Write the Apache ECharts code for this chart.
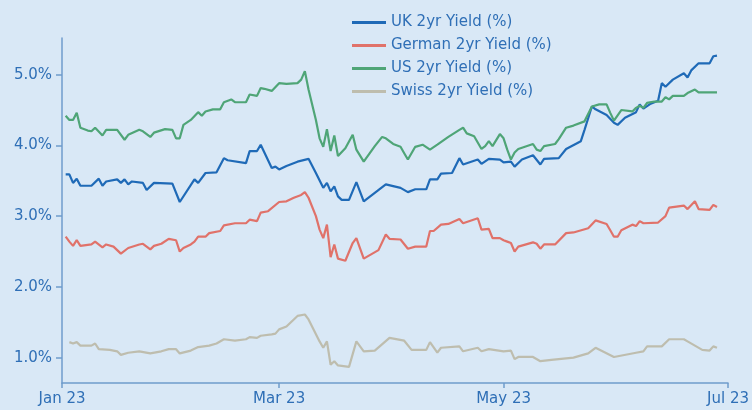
<!DOCTYPE html>
<html>
<head>
<meta charset="utf-8">
<script src="https://cdn.jsdelivr.net/npm/echarts@6/dist/echarts.min.js"></script>
<style>
  html, body { margin: 0; padding: 0; background: #d9e8f6; }
  #chart { width: 752px; height: 410px; }
</style>
</head>
<body>
<div id="chart"></div>
<script>
// 2yr government bond yields, Jan - Jun 2023
const seriesNames = ['UK 2yr Yield (%)', 'German 2yr Yield (%)', 'US 2yr Yield (%)', 'Swiss 2yr Yield (%)']

const ukDates = ['01-02', '01-03', '01-04', '01-05', '01-06', '01-09', '01-11', '01-12', '01-13', '01-16',
  '01-17', '01-18', '01-19', '01-20', '01-23', '01-24', '01-26', '01-31', '02-02', '02-06',
  '02-07', '02-09', '02-12', '02-14', '02-15', '02-20', '02-21', '02-23', '02-24', '02-27',
  '02-28', '03-01', '03-03', '03-06', '03-09', '03-11', '03-13', '03-14', '03-15', '03-16',
  '03-17', '03-18', '03-20', '03-22', '03-24', '03-27', '03-30', '04-03', '04-05', '04-07',
  '04-10', '04-11', '04-13', '04-14', '04-17', '04-19', '04-20', '04-24', '04-25', '04-27',
  '04-30', '05-01', '05-03', '05-04', '05-06', '05-09', '05-11', '05-12', '05-16', '05-18',
  '05-22', '05-23', '05-25', '05-26', '05-29', '05-31', '06-01', '06-03', '06-06', '06-07',
  '06-08', '06-10', '06-12', '06-13', '06-14', '06-16', '06-19', '06-20', '06-21', '06-23',
  '06-26', '06-27', '06-28']
const ukYield = [3.59, 3.59, 3.47, 3.53, 3.43, 3.43, 3.53, 3.43, 3.49, 3.52,
  3.47, 3.52, 3.45, 3.49, 3.47, 3.37, 3.47, 3.46, 3.20, 3.52,
  3.47, 3.61, 3.62, 3.82, 3.79, 3.75, 3.92, 3.92, 4.01, 3.68,
  3.70, 3.66, 3.71, 3.77, 3.81, 3.61, 3.40, 3.47, 3.35, 3.42,
  3.28, 3.23, 3.23, 3.48, 3.21, 3.33, 3.45, 3.40, 3.34, 3.38,
  3.38, 3.52, 3.52, 3.60, 3.61, 3.82, 3.73, 3.80, 3.74, 3.81,
  3.80, 3.76, 3.77, 3.70, 3.80, 3.86, 3.73, 3.81, 3.82, 3.95,
  4.06, 4.22, 4.55, 4.51, 4.43, 4.32, 4.29, 4.39, 4.47, 4.58,
  4.52, 4.59, 4.63, 4.88, 4.83, 4.93, 5.02, 4.96, 5.06, 5.16,
  5.16, 5.26, 5.27]

const deDates = ['01-02', '01-03', '01-04', '01-05', '01-06', '01-09', '01-10', '01-12', '01-13', '01-15',
  '01-17', '01-19', '01-22', '01-23', '01-25', '01-26', '01-28', '01-30', '02-01', '02-02',
  '02-03', '02-05', '02-06', '02-07', '02-09', '02-10', '02-13', '02-14', '02-17', '02-20',
  '02-21', '02-23', '02-24', '02-26', '03-01', '03-03', '03-05', '03-07', '03-08', '03-09',
  '03-11', '03-12', '03-13', '03-14', '03-15', '03-16', '03-17', '03-19', '03-21', '03-22',
  '03-24', '03-28', '03-30', '03-31', '04-03', '04-05', '04-07', '04-10', '04-11', '04-12',
  '04-14', '04-16', '04-19', '04-20', '04-24', '04-25', '04-27', '04-28', '04-30', '05-01',
  '05-02', '05-03', '05-04', '05-05', '05-09', '05-10', '05-11', '05-12', '05-15', '05-18',
  '05-20', '05-24', '05-26', '05-29', '05-30', '05-31', '06-01', '06-02', '06-05', '06-06',
  '06-07', '06-08', '06-12', '06-14', '06-15', '06-19', '06-20', '06-22', '06-23', '06-26',
  '06-27', '06-28']
const deYield = [2.71, 2.64, 2.58, 2.66, 2.58, 2.60, 2.64, 2.56, 2.60, 2.57,
  2.47, 2.55, 2.60, 2.61, 2.53, 2.58, 2.61, 2.68, 2.66, 2.50,
  2.55, 2.60, 2.64, 2.71, 2.71, 2.76, 2.79, 2.87, 2.90, 2.90,
  2.95, 2.93, 3.05, 3.07, 3.20, 3.21, 3.26, 3.30, 3.34, 3.26,
  3.00, 2.81, 2.69, 2.88, 2.42, 2.60, 2.40, 2.37, 2.62, 2.69,
  2.40, 2.52, 2.74, 2.68, 2.67, 2.54, 2.57, 2.57, 2.79, 2.79,
  2.88, 2.89, 2.96, 2.90, 2.97, 2.81, 2.82, 2.69, 2.69, 2.66,
  2.64, 2.62, 2.50, 2.57, 2.63, 2.61, 2.54, 2.60, 2.60, 2.76,
  2.77, 2.83, 2.94, 2.89, 2.80, 2.71, 2.71, 2.80, 2.88, 2.86,
  2.93, 2.90, 2.91, 3.00, 3.12, 3.15, 3.10, 3.21, 3.10, 3.09,
  3.16, 3.13]

const usDates = ['01-02', '01-03', '01-04', '01-05', '01-06', '01-08', '01-09', '01-10', '01-12', '01-13',
  '01-16', '01-18', '01-19', '01-22', '01-23', '01-25', '01-26', '01-29', '01-31', '02-01',
  '02-02', '02-03', '02-05', '02-07', '02-08', '02-09', '02-11', '02-13', '02-14', '02-16',
  '02-17', '02-20', '02-21', '02-23', '02-24', '02-25', '02-27', '03-01', '03-03', '03-06',
  '03-07', '03-08', '03-09', '03-11', '03-12', '03-13', '03-14', '03-15', '03-16', '03-17',
  '03-19', '03-21', '03-22', '03-24', '03-27', '03-29', '03-30', '04-01', '04-03', '04-04',
  '04-05', '04-07', '04-09', '04-11', '04-13', '04-16', '04-19', '04-20', '04-21', '04-23',
  '04-25', '04-26', '04-27', '04-28', '04-30', '05-01', '05-02', '05-03', '05-04', '05-05',
  '05-09', '05-10', '05-11', '05-12', '05-15', '05-16', '05-18', '05-20', '05-23', '05-25',
  '05-27', '05-29', '05-30', '05-31', '06-02', '06-05', '06-06', '06-07', '06-08', '06-09',
  '06-11', '06-13', '06-14', '06-15', '06-16', '06-19', '06-20', '06-22', '06-23', '06-26',
  '06-28']
const usYield = [4.42, 4.36, 4.36, 4.46, 4.25, 4.21, 4.20, 4.25, 4.14, 4.22,
  4.22, 4.08, 4.15, 4.22, 4.20, 4.12, 4.18, 4.23, 4.22, 4.10,
  4.10, 4.29, 4.36, 4.47, 4.42, 4.48, 4.51, 4.51, 4.61, 4.65,
  4.61, 4.61, 4.72, 4.70, 4.81, 4.80, 4.77, 4.88, 4.87, 4.88,
  4.93, 5.05, 4.79, 4.36, 4.10, 3.98, 4.23, 3.92, 4.14, 3.85,
  3.96, 4.15, 3.94, 3.77, 3.99, 4.12, 4.10, 4.02, 3.98, 3.89,
  3.80, 3.98, 4.01, 3.94, 4.01, 4.12, 4.22, 4.25, 4.17, 4.13,
  3.95, 3.99, 4.06, 3.99, 4.16, 4.10, 3.94, 3.80, 3.90, 3.95,
  4.02, 3.94, 3.92, 3.99, 4.02, 4.09, 4.25, 4.28, 4.34, 4.55,
  4.58, 4.58, 4.46, 4.35, 4.50, 4.48, 4.53, 4.56, 4.53, 4.60,
  4.62, 4.62, 4.68, 4.65, 4.70, 4.70, 4.74, 4.79, 4.75, 4.75,
  4.75]

const chDates = ['01-03', '01-04', '01-05', '01-06', '01-09', '01-10', '01-11', '01-14', '01-16', '01-17',
  '01-19', '01-22', '01-25', '01-28', '01-30', '02-01', '02-02', '02-05', '02-07', '02-10',
  '02-12', '02-14', '02-17', '02-20', '02-21', '02-23', '02-24', '02-27', '02-28', '03-01',
  '03-03', '03-06', '03-08', '03-09', '03-12', '03-13', '03-14', '03-15', '03-16', '03-17',
  '03-20', '03-22', '03-24', '03-27', '03-31', '04-04', '04-06', '04-10', '04-11', '04-13',
  '04-14', '04-19', '04-20', '04-24', '04-25', '04-27', '05-01', '05-03', '05-04', '05-05',
  '05-09', '05-11', '05-14', '05-20', '05-24', '05-26', '05-31', '06-06', '06-08', '06-09',
  '06-13', '06-15', '06-19', '06-20', '06-22', '06-24', '06-26', '06-27', '06-28']
const chYield = [1.22, 1.20, 1.22, 1.17, 1.17, 1.20, 1.12, 1.11, 1.09, 1.04,
  1.07, 1.09, 1.06, 1.09, 1.12, 1.12, 1.06, 1.10, 1.15, 1.17,
  1.20, 1.26, 1.24, 1.26, 1.29, 1.28, 1.31, 1.33, 1.34, 1.40,
  1.44, 1.59, 1.61, 1.54, 1.23, 1.14, 1.23, 0.90, 0.95, 0.89,
  0.87, 1.23, 1.09, 1.10, 1.28, 1.24, 1.11, 1.11, 1.22, 1.07,
  1.14, 1.16, 1.09, 1.14, 1.09, 1.12, 1.09, 1.10, 0.98, 1.01,
  1.01, 0.95, 0.97, 1.00, 1.06, 1.14, 1.01, 1.07, 1.09, 1.16,
  1.16, 1.26, 1.26, 1.23, 1.17, 1.11, 1.10, 1.16, 1.14]

const tickDates = ['2023-01-01', '2023-03-01', '2023-05-01', '2023-07-01']
const tickLabels = ['Jan 23', 'Mar 23', 'May 23', 'Jul 23']
const yTicks = [1, 2, 3, 4, 5]

const colors = ['#1f6ab7', '#e0726a', '#4fa577', '#bebdae']

const toTime = s => new Date(s + 'T00:00:00').getTime()
const pairs = (dates, vals) => dates.map((d, i) => [toTime('2023-' + d), vals[i]])
const tickTimes = tickDates.map(toTime)

const chart = echarts.init(document.getElementById('chart'))
chart.setOption({
  backgroundColor: '#d9e8f6',
  animation: false,
  color: colors,
  textStyle: {
    fontFamily: 'DejaVu Sans'
  },
  legend: {
    orient: 'vertical',
    left: 347,
    top: 10,
    icon: 'rect',
    itemWidth: 34,
    itemHeight: 3,
    itemGap: 8,
    selectedMode: false,
    textStyle: {
      color: '#2f6fb6',
      fontSize: 15,
      fontFamily: 'DejaVu Sans'
    },
    data: seriesNames
  },
  grid: {
    left: 62,
    right: 22,
    top: 38,
    bottom: 27,
    containLabel: false
  },
  // dates kept as plain timestamps on a value axis so ticks can be pinned to month starts
  xAxis: {
    type: 'value',
    min: tickTimes[0],
    max: tickTimes[tickTimes.length - 1],
    splitLine: { show: false },
    axisLine: {
      lineStyle: { color: '#6f9ccc', width: 1.5 }
    },
    axisTick: {
      show: true,
      length: 5,
      customValues: tickTimes,
      lineStyle: { color: '#6f9ccc', width: 1.5 }
    },
    axisLabel: {
      customValues: tickTimes,
      margin: 9,
      color: '#2f6fb6',
      fontSize: 15,
      fontFamily: 'DejaVu Sans',
      formatter: function (v) {
        const i = tickTimes.indexOf(v)
        return i >= 0 ? tickLabels[i] : ''
      }
    }
  },
  yAxis: {
    type: 'value',
    min: 0.642,
    max: 5.518,
    splitLine: { show: false },
    axisLine: {
      show: true,
      lineStyle: { color: '#6f9ccc', width: 1.5 }
    },
    axisTick: {
      show: true,
      length: 6,
      customValues: yTicks,
      lineStyle: { color: '#6f9ccc', width: 1.5 }
    },
    axisLabel: {
      customValues: yTicks,
      margin: 10,
      color: '#2f6fb6',
      fontSize: 15,
      fontFamily: 'DejaVu Sans',
      formatter: function (v) {
        return v.toFixed(1) + '%'
      }
    }
  },
  series: [
    { name: seriesNames[0], data: pairs(ukDates, ukYield) },
    { name: seriesNames[1], data: pairs(deDates, deYield) },
    { name: seriesNames[2], data: pairs(usDates, usYield) },
    { name: seriesNames[3], data: pairs(chDates, chYield) }
  ].map(s => Object.assign({
    type: 'line',
    showSymbol: false,
    symbol: 'none',
    smooth: false,
    lineStyle: { width: 2.2 }
  }, s))
})
</script>
</body>
</html>
